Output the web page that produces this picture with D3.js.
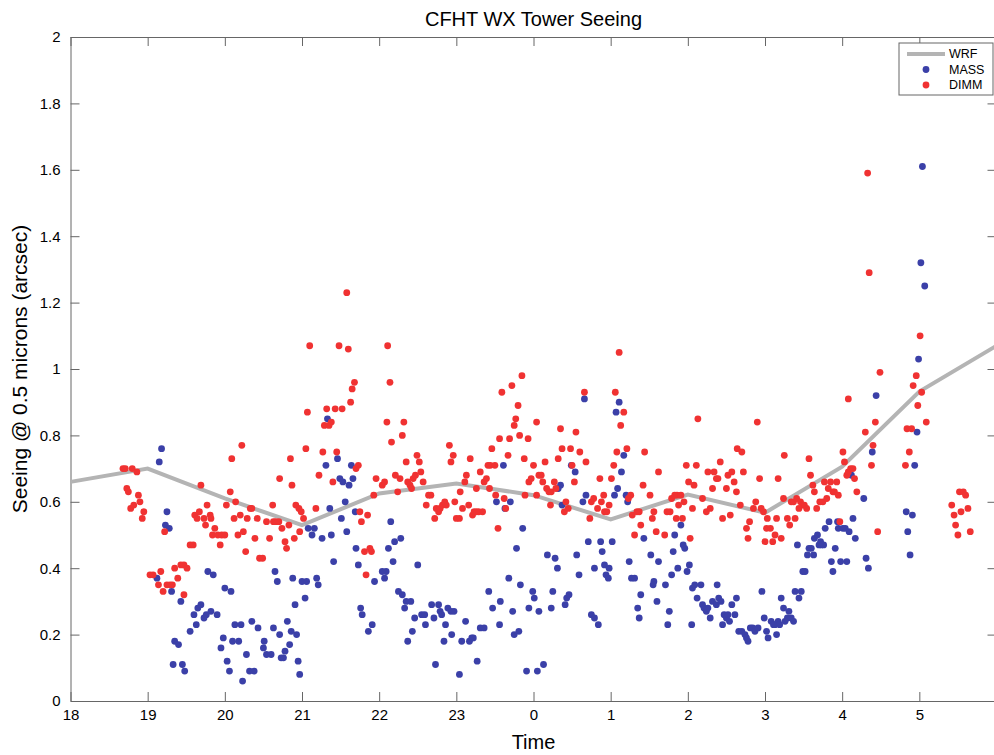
<!DOCTYPE html>
<html lang="en">
<head>
<meta charset="UTF-8">
<title>CFHT WX Tower Seeing</title>
<script src="https://d3js.org/d3.v7.min.js"></script>
<style>
  body { margin: 0; background: #fff; }
  svg { display: block; font-family: Helvetica, Arial, 'Liberation Sans', sans-serif; }
  .axis path, .axis line { stroke: #666; }
  .axis text { font-size: 15px; fill: #000; }
</style>
</head>
<body>
<div id="chart"></div>
<script>
// hours after 18 local (24 = midnight), seeing in arcsec
const wrfHours = [18, 19, 20, 21, 22, 23, 24, 25, 26, 27, 28, 29, 30];
const wrfSeeing = [0.66, 0.70, 0.61, 0.53, 0.625, 0.655, 0.62, 0.547, 0.622, 0.567, 0.706, 0.932, 1.07];

const massData = [
  [19.18,0.76],[19.15,0.72],[19.25,0.57],[19.23,0.53],[19.28,0.52],[19.12,0.37],[19.31,0.33],[19.43,0.30],[19.35,0.18],[19.40,0.17],
  [19.33,0.11],[19.45,0.11],[19.48,0.09],[19.55,0.21],[19.60,0.26],[19.63,0.23],[19.65,0.28],[19.69,0.29],[19.73,0.25],[19.76,0.26],
  [19.78,0.39],[19.85,0.38],[19.82,0.27],[19.90,0.26],[20.00,0.34],[20.08,0.33],[19.98,0.19],[19.95,0.16],[20.03,0.12],[20.06,0.09],
  [20.13,0.23],[20.21,0.23],[20.10,0.18],[20.18,0.18],[20.23,0.06],[20.28,0.14],[20.32,0.09],[20.38,0.09],[20.35,0.24],[20.43,0.22],
  [20.51,0.18],[20.50,0.16],[20.54,0.14],[20.60,0.14],[20.63,0.22],[20.65,0.39],[20.68,0.36],[20.71,0.20],[20.73,0.13],[20.76,0.13],
  [20.78,0.15],[20.81,0.24],[20.84,0.17],[20.86,0.21],[20.88,0.37],[20.91,0.29],[20.93,0.20],[20.95,0.12],[20.97,0.08],[21.00,0.36],
  [21.06,0.36],[21.04,0.31],[21.08,0.52],
  [21.19,0.37],[21.21,0.35],[21.16,0.52],[21.13,0.50],[21.26,0.49],[21.38,0.50],[21.36,0.58],[21.41,0.42],[21.33,0.85],[21.31,0.71],
  [21.46,0.73],[21.49,0.67],[21.53,0.66],[21.56,0.60],[21.61,0.65],[21.64,0.71],[21.66,0.67],[21.69,0.57],[21.51,0.55],[21.58,0.51],
  [21.70,0.46],[21.73,0.41],[21.76,0.28],[21.78,0.26],[21.86,0.21],[21.91,0.23],[21.94,0.36],[22.04,0.39],[22.09,0.39],[22.07,0.37],
  [22.12,0.46],[22.15,0.54],[22.18,0.42],[22.20,0.48],[22.28,0.49],[22.25,0.33],[22.30,0.32],[22.33,0.28],[22.35,0.30],[22.41,0.30],
  [22.37,0.18],[22.43,0.21],[22.46,0.25],[22.50,0.41],[22.55,0.26],[22.59,0.26],[22.60,0.23],[22.68,0.29],[22.77,0.29],[22.71,0.25],
  [22.79,0.27],[22.81,0.26],[22.73,0.11],[22.84,0.18],[22.86,0.23],[22.89,0.28],[22.93,0.27],[22.97,0.27],[22.94,0.20],[23.04,0.08],
  [23.07,0.18],[23.12,0.24],[23.17,0.18],[23.20,0.19],[23.22,0.19],[23.27,0.12],[23.31,0.22],[23.36,0.22],[23.42,0.33],[23.47,0.28],
  [23.52,0.60],[23.56,0.23],[23.57,0.30],[23.61,0.71],[23.63,0.58],[23.68,0.37],[23.70,0.60],[23.73,0.27],[23.75,0.20],[23.81,0.21],
  [23.78,0.46],[23.83,0.35],[23.86,0.52],[23.91,0.09],[23.94,0.28],[23.99,0.33],[24.01,0.31],[24.05,0.09],[24.07,0.27],[24.13,0.11],
  [24.66,0.91],[25.11,0.90],[25.07,0.87],[25.17,0.74],[25.14,0.69],[24.49,0.71],[24.54,0.69],[24.35,0.65],[24.32,0.64],[24.37,0.59],
  [24.68,0.62],[24.64,0.60],[25.05,0.62],[25.09,0.64],[25.20,0.62],[25.22,0.60],[25.91,0.53],[24.71,0.48],[24.87,0.48],[25.02,0.48],
  [24.89,0.45],[24.18,0.44],[24.28,0.43],[24.31,0.40],[24.56,0.44],[24.59,0.38],[24.79,0.40],[24.92,0.41],[24.98,0.40],[24.94,0.38],
  [24.97,0.37],[25.24,0.42],[25.27,0.37],[25.31,0.37],[25.43,0.49],[25.52,0.44],[25.62,0.42],[25.81,0.45],[25.83,0.50],[25.94,0.47],
  [25.96,0.46],[25.87,0.40],[25.79,0.38],[25.99,0.39],[26.02,0.41],[25.56,0.36],[25.55,0.35],[25.71,0.35],[25.39,0.32],[25.60,0.30],
  [25.35,0.28],[25.37,0.25],[25.76,0.27],[25.74,0.23],[26.05,0.23],[24.23,0.28],[24.25,0.33],[24.41,0.29],[24.43,0.31],[24.46,0.32],
  [24.75,0.26],[24.79,0.25],[24.84,0.23],[26.06,0.34],[26.09,0.35],[26.17,0.35],[26.12,0.31],[26.19,0.29],[26.21,0.28],[26.24,0.27],
  [26.26,0.28],[26.29,0.25],[26.32,0.30],[26.37,0.29],[26.40,0.31],[26.38,0.35],[26.43,0.30],[26.47,0.26],[26.50,0.25],[26.52,0.26],
  [26.45,0.23],[26.54,0.24],[26.57,0.29],[26.61,0.26],[26.63,0.31],[26.66,0.21],[26.70,0.21],[26.74,0.20],[26.78,0.18],[26.76,0.19],
  [26.81,0.22],[26.84,0.22],[26.87,0.21],[26.91,0.22],[26.96,0.33],[26.99,0.25],[27.02,0.21],[27.04,0.19],[27.08,0.24],[27.13,0.23],
  [27.17,0.24],[27.15,0.20],[27.19,0.23],[27.11,0.23],
  [27.21,0.31],[27.24,0.28],[27.26,0.24],[27.29,0.25],[27.31,0.27],[27.34,0.25],[27.37,0.24],[27.39,0.33],[27.47,0.33],[27.44,0.31],
  [27.42,0.47],[27.49,0.39],[27.52,0.39],[27.55,0.44],[27.63,0.44],[27.57,0.46],[27.60,0.46],[27.64,0.49],[27.68,0.50],[27.70,0.47],
  [27.73,0.47],[27.76,0.47],[27.72,0.48],[27.78,0.52],[27.83,0.54],[27.86,0.42],[27.88,0.39],[27.91,0.46],[27.94,0.54],[27.95,0.52],
  [27.98,0.42],[28.06,0.42],[28.01,0.52],[28.04,0.52],[28.09,0.51],[28.12,0.68],[28.14,0.55],[28.17,0.49],[28.28,0.61],[28.31,0.43],
  [28.34,0.40],[28.39,0.75],[28.44,0.92],[28.83,0.57],[28.85,0.51],[28.88,0.44],[28.91,0.56],[28.94,0.71],[28.97,0.81],[28.99,1.03],
  [29.02,1.32],[29.04,1.61],[29.07,1.25]
];

const dimmData = [
  [18.68,0.70],[18.71,0.70],[18.80,0.70],[18.86,0.69],[18.73,0.64],[18.75,0.63],[18.88,0.62],[18.78,0.58],[18.82,0.59],[18.90,0.60],
  [18.95,0.57],[18.93,0.55],[19.22,0.51],[19.03,0.38],[19.07,0.38],[19.17,0.39],[19.14,0.35],[19.20,0.33],[19.25,0.35],[19.29,0.35],
  [19.32,0.35],[19.35,0.40],[19.39,0.37],[19.43,0.41],[19.47,0.41],[19.51,0.40],[19.47,0.32],[19.55,0.47],[19.59,0.47],[19.69,0.65],
  [19.61,0.56],[19.67,0.57],[19.64,0.55],[19.73,0.55],[19.81,0.56],[19.82,0.55],[19.75,0.53],[19.77,0.59],[19.87,0.52],[19.84,0.50],
  [19.91,0.50],[19.96,0.50],[20.00,0.50],[19.94,0.47],[20.02,0.59],[20.07,0.63],[20.09,0.73],[20.22,0.77],[20.14,0.60],[20.12,0.55],
  [20.17,0.50],[20.20,0.56],[20.24,0.51],[20.27,0.45],[20.29,0.55],[20.33,0.58],[20.35,0.58],[20.39,0.49],[20.42,0.55],[20.45,0.43],
  [20.49,0.43],[20.54,0.54],[20.58,0.49],[20.62,0.59],[20.63,0.54],[20.66,0.54],[20.70,0.54],[20.71,0.67],[20.74,0.52],[20.78,0.48],
  [20.80,0.46],[20.83,0.53],[20.85,0.73],[20.87,0.65],[20.90,0.49],[20.92,0.59],[20.96,0.58],[20.99,0.57],[20.97,0.51],[21.02,0.55],
  [21.07,0.87],[21.05,0.76],[21.10,1.07],
  [21.18,0.58],[21.22,0.68],[21.27,0.75],[21.29,0.83],[21.32,0.88],[21.35,0.83],[21.38,0.84],[21.43,0.88],[21.52,0.88],[21.45,0.75],
  [21.40,0.66],[21.48,1.07],[21.58,1.23],[21.60,1.06],[21.63,0.90],[21.65,0.94],[21.68,0.96],[21.70,0.70],[21.73,0.71],[21.75,0.57],
  [21.77,0.54],[21.85,0.56],[21.81,0.45],[21.88,0.46],[21.90,0.45],[21.83,0.38],[21.96,0.67],[21.93,0.62],[22.04,0.65],[22.07,0.66],
  [22.10,0.84],[22.11,1.07],[22.14,0.96],[22.16,0.78],[22.21,0.68],[22.27,0.67],[22.24,0.63],[22.30,0.80],[22.32,0.84],[22.35,0.72],
  [22.37,0.66],[22.40,0.65],[22.42,0.64],[22.44,0.67],[22.47,0.68],[22.49,0.74],[22.52,0.72],[22.54,0.69],[22.57,0.66],[22.61,0.59],
  [22.64,0.62],[22.67,0.62],[22.72,0.55],[22.74,0.58],[22.77,0.57],[22.79,0.58],[22.82,0.59],[22.85,0.60],[22.87,0.59],[22.91,0.77],
  [22.93,0.72],[22.96,0.74],[22.98,0.60],[23.00,0.55],[23.04,0.55],[23.05,0.63],[23.08,0.58],[23.11,0.66],[23.13,0.68],[23.16,0.59],
  [23.18,0.73],[23.21,0.56],[23.23,0.57],[23.26,0.57],[23.29,0.57],[23.34,0.57],[23.26,0.64],[23.31,0.69],[23.36,0.66],[23.39,0.67],
  [23.41,0.71],[23.44,0.71],[23.50,0.71],[23.43,0.64],[23.46,0.76],[23.51,0.62],[23.54,0.52],[23.56,0.79],[23.59,0.93],[23.62,0.61],
  [23.64,0.58],[23.67,0.74],[23.69,0.79],[23.72,0.95],[23.75,0.83],[23.77,0.85],[23.80,0.89],[23.82,0.80],[23.85,0.98],[23.88,0.73],
  [23.89,0.62],[23.93,0.79],[23.94,0.66],[23.97,0.67],[24.00,0.71],[24.04,0.84],[24.04,0.62],[24.07,0.68],
  [24.10,0.68],[24.15,0.72],[24.12,0.66],[24.17,0.64],[24.20,0.63],[24.23,0.63],[24.27,0.66],[24.29,0.64],[24.32,0.73],[24.35,0.82],
  [24.37,0.76],[24.48,0.76],[24.50,0.71],[24.53,0.66],[24.55,0.81],[24.60,0.75],[24.68,0.72],[24.22,0.59],[24.40,0.57],[24.42,0.60],
  [24.45,0.58],[24.66,0.93],[24.73,0.55],[24.75,0.60],[24.78,0.61],[24.83,0.58],[24.86,0.67],[24.88,0.60],[24.91,0.62],[24.92,0.57],
  [24.95,0.57],[24.98,0.59],[25.01,0.67],[25.04,0.71],[25.11,1.05],[25.06,0.93],[25.08,0.75],[25.13,0.83],[25.17,0.87],[25.21,0.76],
  [25.26,0.62],[25.23,0.61],[25.28,0.56],[25.34,0.57],[25.37,0.57],[25.31,0.50],[25.39,0.53],[25.42,0.65],[25.44,0.75],[25.51,0.62],
  [25.54,0.55],[25.56,0.57],[25.59,0.51],[25.62,0.69],[25.70,0.50],[25.73,0.57],[25.77,0.57],[25.79,0.61],[25.83,0.62],[25.86,0.62],
  [25.91,0.62],[25.85,0.55],[25.88,0.59],[25.93,0.55],[25.95,0.60],[25.98,0.71],[26.11,0.71],[26.01,0.66],[26.08,0.65],[26.03,0.49],
  [26.06,0.58],[26.13,0.85],[26.19,0.61],[26.24,0.57],[26.29,0.58],[26.26,0.69],[26.34,0.69],[26.32,0.64],[26.37,0.67],[26.39,0.67],
  [26.42,0.72],[26.45,0.55],[26.50,0.64],[26.52,0.68],[26.57,0.69],[26.55,0.56],[26.60,0.66],[26.63,0.63],[26.64,0.76],[26.70,0.75],
  [26.68,0.59],[26.72,0.69],[26.76,0.52],[26.78,0.49],[26.80,0.54],[26.85,0.58],[26.88,0.60],[26.90,0.84],[26.93,0.67],[26.95,0.58],
  [26.98,0.57],[27.03,0.55],[27.15,0.55],[27.02,0.52],[27.07,0.52],[27.00,0.48],[27.10,0.48],[27.13,0.50],[27.17,0.67],
  [27.21,0.49],[27.24,0.61],[27.25,0.74],[27.29,0.55],[27.32,0.53],[27.34,0.60],[27.37,0.60],[27.39,0.55],[27.41,0.61],[27.44,0.58],
  [27.46,0.60],[27.49,0.59],[27.51,0.59],[27.54,0.58],[27.57,0.73],[27.59,0.68],[27.62,0.65],[27.64,0.63],[27.67,0.58],[27.71,0.60],
  [27.75,0.60],[27.77,0.66],[27.80,0.61],[27.82,0.64],[27.85,0.66],[27.93,0.66],[27.88,0.63],[27.90,0.63],[27.95,0.62],[27.97,0.54],
  [28.01,0.75],[28.03,0.72],[28.06,0.68],[28.08,0.69],[28.11,0.70],[28.14,0.70],[28.08,0.91],[28.16,0.67],[28.19,0.63],[28.30,0.81],
  [28.33,1.59],[28.35,1.29],[28.38,0.71],[28.40,0.77],[28.43,0.84],[28.46,0.51],[28.49,0.99],[28.82,0.71],[28.84,0.82],[28.90,0.82],
  [28.87,0.75],[28.92,0.95],[28.96,0.98],[28.98,0.89],[29.01,1.10],[29.03,0.93],[29.09,0.84],[29.42,0.59],[29.45,0.56],[29.47,0.53],
  [29.50,0.50],[29.52,0.63],[29.57,0.63],[29.54,0.57],[29.60,0.62],[29.63,0.58],[29.66,0.51]
];

const xTicks = [18, 19, 20, 21, 22, 23, 24, 25, 26, 27, 28, 29];
const yTicks = [0, 0.2, 0.4, 0.6, 0.8, 1, 1.2, 1.4, 1.6, 1.8, 2];
const legendItems = ['WRF', 'MASS', 'DIMM'];

const width = 994, height = 755;
const margin = { top: 37, right: -2.5, bottom: 54, left: 70.5 };
const tickLen = 9;
const blue = '#3b40a8', red = '#f03232', gray = '#b4b4b4';

const svg = d3.select('#chart').append('svg')
  .attr('width', width)
  .attr('height', height);

const x = d3.scaleLinear().domain([18, 30]).range([margin.left, width - margin.right]);
const y = d3.scaleLinear().domain([0, 2]).range([height - margin.bottom, margin.top]);

const fmtY = d => String(+d.toFixed(1));
const fmtX = d => String(d % 24);

// axes, ticks pointing inward like MATLAB
svg.append('g').attr('class', 'axis')
  .attr('transform', `translate(0,${y(0)})`)
  .call(d3.axisBottom(x).tickValues(xTicks).tickFormat(fmtX).tickSizeInner(-tickLen).tickSizeOuter(0).tickPadding(8));
svg.append('g').attr('class', 'axis')
  .attr('transform', `translate(0,${y(2)})`)
  .call(d3.axisTop(x).tickValues(xTicks).tickFormat('').tickSizeInner(-tickLen).tickSizeOuter(0));
svg.append('g').attr('class', 'axis')
  .attr('transform', `translate(${x(18)},0)`)
  .call(d3.axisLeft(y).tickValues(yTicks).tickFormat(fmtY).tickSizeInner(-tickLen).tickSizeOuter(0).tickPadding(10));
svg.append('g').attr('class', 'axis')
  .attr('transform', `translate(${x(30)},0)`)
  .call(d3.axisRight(y).tickValues(yTicks).tickFormat('').tickSizeInner(-tickLen).tickSizeOuter(0));

svg.append('defs').append('clipPath').attr('id', 'plotClip')
  .append('rect')
  .attr('x', x(18)).attr('y', y(2))
  .attr('width', x(30) - x(18)).attr('height', y(0) - y(2));

const plot = svg.append('g').attr('clip-path', 'url(#plotClip)');

const line = d3.line().x((d, i) => x(wrfHours[i])).y(d => y(d));
plot.append('path')
  .datum(wrfSeeing)
  .attr('d', line)
  .attr('fill', 'none')
  .attr('stroke', gray)
  .attr('stroke-width', 4);

plot.selectAll('.mass')
  .data(massData)
  .enter().append('circle')
  .attr('class', 'mass')
  .attr('cx', d => x(d[0]))
  .attr('cy', d => y(d[1]))
  .attr('r', 3.4)
  .attr('fill', blue);

plot.selectAll('.dimm')
  .data(dimmData)
  .enter().append('circle')
  .attr('class', 'dimm')
  .attr('cx', d => x(d[0]))
  .attr('cy', d => y(d[1]))
  .attr('r', 3.4)
  .attr('fill', red);

// title and axis labels
svg.append('text')
  .attr('x', (x(18) + x(30)) / 2)
  .attr('y', 26)
  .attr('text-anchor', 'middle')
  .style('font-size', '20px')
  .text('CFHT WX Tower Seeing');

svg.append('text')
  .attr('x', (x(18) + x(30)) / 2)
  .attr('y', 749)
  .attr('text-anchor', 'middle')
  .style('font-size', '20px')
  .text('Time');

svg.append('text')
  .attr('transform', `translate(27,${(y(0) + y(2)) / 2}) rotate(-90)`)
  .attr('text-anchor', 'middle')
  .style('font-size', '21px')
  .text('Seeing @ 0.5 microns (arcsec)');

// legend
const legend = svg.append('g').attr('transform', 'translate(899,43)');
legend.append('rect')
  .attr('width', 94).attr('height', 52)
  .attr('fill', '#fff').attr('stroke', '#666');

const item = legend.selectAll('.legend')
  .data(legendItems)
  .enter().append('g')
  .attr('class', 'legend')
  .attr('transform', (d, i) => `translate(0,${11 + i * 15.5})`);

item.filter(d => d === 'WRF').append('line')
  .attr('x1', 8).attr('x2', 46)
  .attr('stroke', gray).attr('stroke-width', 4);
item.filter(d => d !== 'WRF').append('circle')
  .attr('cx', 27).attr('r', 3.4)
  .attr('fill', d => d === 'MASS' ? blue : red);
item.append('text')
  .attr('x', 50).attr('dy', '0.35em')
  .style('font-size', '12.5px')
  .text(d => d);
</script>
</body>
</html>
